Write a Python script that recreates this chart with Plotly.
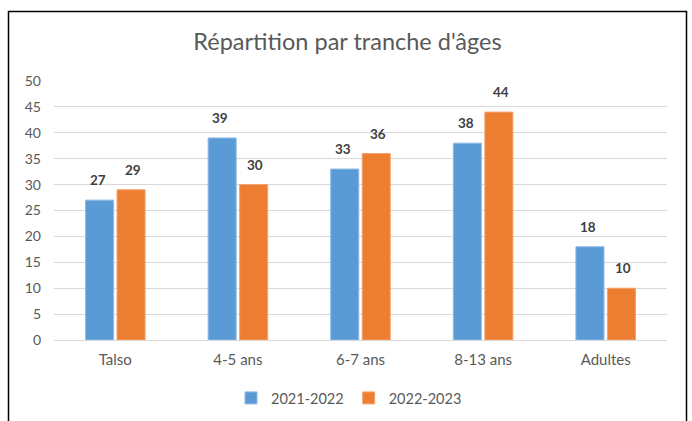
import plotly.graph_objects as go

categories = ["Talso", "4-5 ans", "6-7 ans", "8-13 ans", "Adultes"]
series_names = ["2021-2022", "2022-2023"]
values_2021 = [27, 39, 33, 38, 18]
values_2022 = [29, 30, 36, 44, 10]
y_ticks = [0, 5, 10, 15, 20, 25, 30, 35, 40, 45, 50]

colors = ["#5B9BD5", "#ED7D31"]
edge_colors = ["#8DB9E6", "#F4A36E"]
FONT = "Lato, Calibri, Carlito, sans-serif"

W, H = 692, 421
# plot area in window pixels: x 54..667, y 81..340
L, T = 54, 81
R = W - 667
B = H - 340
pw = W - L - R
ph = H - T - B


def px_to_paper_x(px):
    return (px - L) / pw


def px_to_paper_y(py):
    return (H - B - py) / ph


fig = go.Figure()
for name, vals, c, ec in zip(series_names, [values_2021, values_2022], colors, edge_colors):
    fig.add_trace(go.Bar(
        x=categories, y=vals, name=name,
        marker=dict(color=c, line=dict(color=ec, width=1)),
        hoverinfo="x+y+name",
    ))

# data labels
for i, vals in enumerate([values_2021, values_2022]):
    shift = -17.5 if i == 0 else 17.5
    for cat, v in zip(categories, vals):
        fig.add_annotation(
            x=cat, y=v, text=f"<b>{v}</b>", showarrow=False,
            xshift=shift, yshift=10, yanchor="bottom",
            font=dict(family=FONT, size=13.5, color="#404040"),
        )

fig.add_shape(
    type="rect", xref="paper", yref="paper",
    x0=px_to_paper_x(8.5), x1=px_to_paper_x(686.5),
    y0=px_to_paper_y(440), y1=px_to_paper_y(11.5),
    line=dict(color="#000000", width=1.5), fillcolor="rgba(0,0,0,0)",
    layer="above",
)

fig.update_layout(
    width=W, height=H,
    margin=dict(l=L, r=R, t=T, b=B, autoexpand=False),
    paper_bgcolor="white", plot_bgcolor="white",
    barmode="group", bargap=0.486, bargroupgap=0.11,
    title=dict(
        text="Répartition par tranche d'âges",
        x=347.5 / W, xref="container", xanchor="center",
        y=1 - 42 / H, yref="container", yanchor="middle",
        font=dict(family=FONT, size=23.5, color="#595959"),
        automargin=False,
    ),
    font=dict(family=FONT, size=14, color="#595959"),
    legend=dict(
        orientation="h", x=px_to_paper_x(349), xanchor="center",
        y=px_to_paper_y(398), yanchor="middle",
        font=dict(family=FONT, size=14.5, color="#595959"),
        itemwidth=30, traceorder="normal",
    ),
    showlegend=True,
)
fig.update_xaxes(
    showgrid=False, showline=True, linecolor="#D9D9D9", linewidth=1,
    ticks="", tickfont=dict(family=FONT, size=15, color="#595959"),
    ticklabelstandoff=6, automargin=False,
)
fig.update_yaxes(
    range=[0, 50], tickvals=y_ticks, showgrid=True, gridcolor="#D9D9D9",
    gridwidth=1, zeroline=False, showline=False, ticks="",
    tickfont=dict(family=FONT, size=14, color="#595959"),
    ticklabelstandoff=12, automargin=False,
)

fig.write_html(
    "out.html",
    config={"displayModeBar": False},
    post_script="document.body.style.margin='0';document.body.style.overflow='hidden';",
)
